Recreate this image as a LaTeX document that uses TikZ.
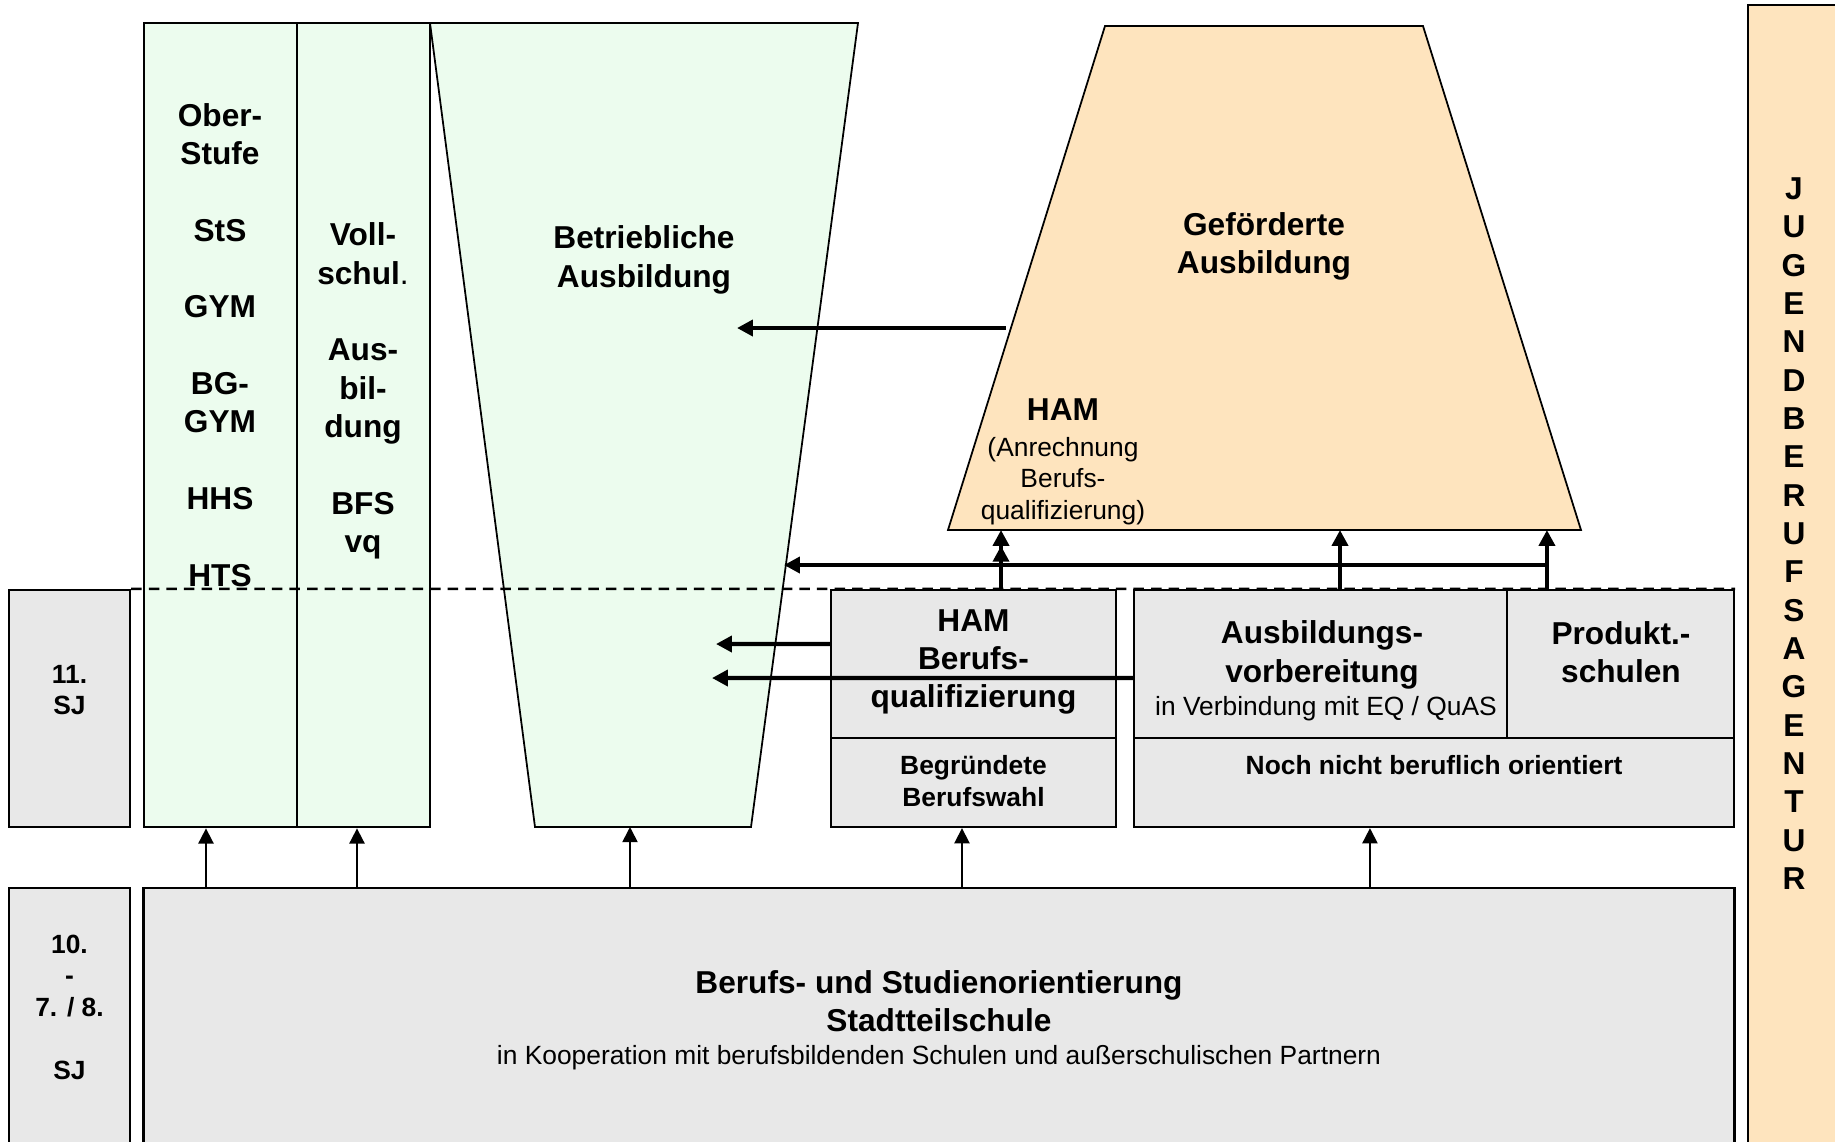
\documentclass[tikz,border=0pt]{standalone}
\usepackage{fontspec}
\setmainfont{Liberation Sans}
\usetikzlibrary{arrows.meta}

\definecolor{hellgruen}{RGB}{236,252,238}
\definecolor{pfirsich}{RGB}{254,228,190}
\definecolor{hellgrau}{RGB}{232,232,232}

\begin{document}
\begin{tikzpicture}[x=0.01cm, y=-0.01cm,
    kasten/.style={draw, line width=0.65pt, inner sep=0pt},
    gross/.style={font=\fontsize{9}{10.9}\selectfont\bfseries, align=center, inner sep=0pt},
    klein/.style={font=\fontsize{7.5}{9}\selectfont, align=center, inner sep=0pt},
    kleinfett/.style={font=\fontsize{7.5}{9}\selectfont\bfseries, align=center, inner sep=0pt},
    pfeil/.style={line width=0.5pt, -{Triangle[width=4.3pt,length=4.3pt]}},
    dickpfeil/.style={line width=1.2pt, -{Triangle[width=4.5pt,length=4.5pt]}}]

    \useasboundingbox (0,0) rectangle (1835,1141);
    \clip (0,0) rectangle (1835,1141);

    % Oberstufe / Vollschulische Ausbildung
    \node[kasten, fill=hellgruen, minimum width=1.53cm, minimum height=8.04cm] (spalte1) at (220.5,425) {};
    \node[kasten, fill=hellgruen, minimum width=1.33cm, minimum height=8.04cm] (spalte2) at (363.5,425) {};

    % Betriebliche Ausbildung (Trapez)
    \draw[fill=hellgruen, line width=0.5pt] (430,23) -- (858,23) -- (751,827) -- (535,827) -- cycle;
    \coordinate (betrA) at (737,328);
    \coordinate (betrR) at (784,565);
    \coordinate (hamL) at (716,644);
    \coordinate (avL) at (712,678);
    \coordinate (betrU) at (630,827);

    % Gefoerderte Ausbildung (Trapez)
    \draw[fill=pfirsich, line width=0.5pt] (1105,26) -- (1423,26) -- (1581,530) -- (948,530) -- cycle;
    \coordinate (gefUL) at (948,530);
    \coordinate (gefL) at (1006,328);

    % Jugendberufsagentur
    \node[kasten, fill=pfirsich, minimum width=1.02cm, minimum height=11.6cm] (jba) at (1799,585) {};

    % Schuljahre
    \node[kasten, fill=hellgrau, minimum width=1.21cm, minimum height=2.37cm] (sj11) at (69.5,708.5) {};
    \node[kasten, fill=hellgrau, minimum width=1.21cm, minimum height=2.72cm] (sj10) at (69.5,1024) {};

    % Berufs- und Studienorientierung
    \node[kasten, fill=hellgrau, minimum width=15.9cm, minimum height=2.62cm] (basis) at (939,1019) {};

    % HAM
    \node[kasten, fill=hellgrau, minimum width=2.85cm, minimum height=1.48cm] (hamoben) at (973.5,664) {};
    \node[kasten, fill=hellgrau, minimum width=2.85cm, minimum height=0.89cm] (hamunten) at (973.5,782.5) {};

    % Ausbildungsvorbereitung / Produktionsschulen
    \node[kasten, fill=hellgrau, minimum width=3.73cm, minimum height=1.48cm] (avoben) at (1320.5,664) {};
    \node[kasten, fill=hellgrau, minimum width=2.27cm, minimum height=1.48cm] (prod) at (1620.5,664) {};
    \node[kasten, fill=hellgrau, minimum width=6cm, minimum height=0.89cm] (noch) at (1434,782.5) {};

    % Linie 11. SJ
    \draw[line width=0.7pt, dash pattern=on 3pt off 2pt] (sj11.north east) -- (prod.north east);

    % Pfeile von unten
    \coordinate (z1) at ([xshift=-0.145cm]spalte1.south);
    \coordinate (z2) at ([xshift=-0.065cm]spalte2.south);
    \coordinate (z4) at ([xshift=-0.115cm]hamunten.south);
    \coordinate (z5) at ([xshift=-0.64cm]noch.south);
    \draw[pfeil] (z1 |- basis.north) -- (z1);
    \draw[pfeil] (z2 |- basis.north) -- (z2);
    \draw[pfeil] (betrU |- basis.north) -- (betrU);
    \draw[pfeil] (z4 |- basis.north) -- (z4);
    \draw[pfeil] (z5 |- basis.north) -- (z5);

    % Pfeile nach oben und links
    \coordinate (fussHAM) at ([xshift=0.275cm]hamoben.north);
    \coordinate (fussAV) at ([xshift=0.195cm]avoben.north);
    \coordinate (fussPR) at ([xshift=-0.735cm]prod.north);
    \draw[dickpfeil] (fussPR |- betrR) -- (betrR);
    \draw[line width=1.2pt, -{Triangle[width=4.5pt,length=4.5pt] Triangle[width=4.5pt,length=4.5pt]}] (fussHAM) -- (fussHAM |- gefUL);
    \draw[dickpfeil] (fussAV) -- (fussAV |- gefUL);
    \draw[dickpfeil] (fussPR) -- (fussPR |- gefUL);
    \draw[dickpfeil] (gefL) -- (betrA);
    \draw[dickpfeil] ([yshift=0.2cm]hamoben.west) -- (hamL);
    \draw[dickpfeil] ([yshift=-0.14cm]avoben.west) -- (avL);

    % Texte
    \node[gross] (txtOS) at (220,345) {Ober-\\Stufe\\[10.9pt]StS\\[10.9pt]GYM\\[10.9pt]BG-\\GYM\\[10.9pt]HHS\\[10.9pt]HTS};
    \node[gross] (txtVS) at (363,391) {Voll-\\schul{\mdseries.}\\[10.9pt]Aus-\\bil-\\dung\\[10.9pt]BFS\\vq};
    \node[gross] (txtBetr) at (644,260) {Betriebliche\\Ausbildung};
    \node[gross] (txtGef) at (1264,246.5) {Geförderte\\Ausbildung};
    \node[gross] (txtHAMo) at (1063,410) {HAM};
    \node[klein] (txtAnr) at (1063,481) {(Anrechnung\\Berufs-\\qualifizierung)};
    \node[gross] (txtHAM) at (973.5,662) {HAM\\Berufs-\\qualifizierung};
    \node[kleinfett] (txtBW) at (973.5,781) {Begründete\\Berufswahl};
    \node[gross] (txtAV) at (1322,655) {Ausbildungs-\\vorbereitung};
    \node[klein] (txtEQ) at (1326,709) {in Verbindung mit EQ / QuAS};
    \node[gross] (txtProd) at (1621,652) {Produkt.-\\schulen};
    \node[kleinfett] (txtNoch) at (1434,765) {Noch nicht beruflich orientiert};
    \node[kleinfett] (txtSJ11) at (69.5,690) {11.\\SJ};
    \node[kleinfett] (txtSJ10) at (69.5,1007.5) {10.\\-\\7. / 8.\\[9pt]SJ};
    \node[gross] (txtBSO) at (939,1001) {Berufs- und Studienorientierung\\Stadtteilschule};
    \node[klein] (txtKoop) at (939,1058) {in Kooperation mit berufsbildenden Schulen und außerschulischen Partnern};
    \node[gross] (txtJBA) at (1794,533.5) {J\\U\\G\\E\\N\\D\\B\\E\\R\\U\\F\\S\\A\\G\\E\\N\\T\\U\\R};
\end{tikzpicture}
\end{document}
